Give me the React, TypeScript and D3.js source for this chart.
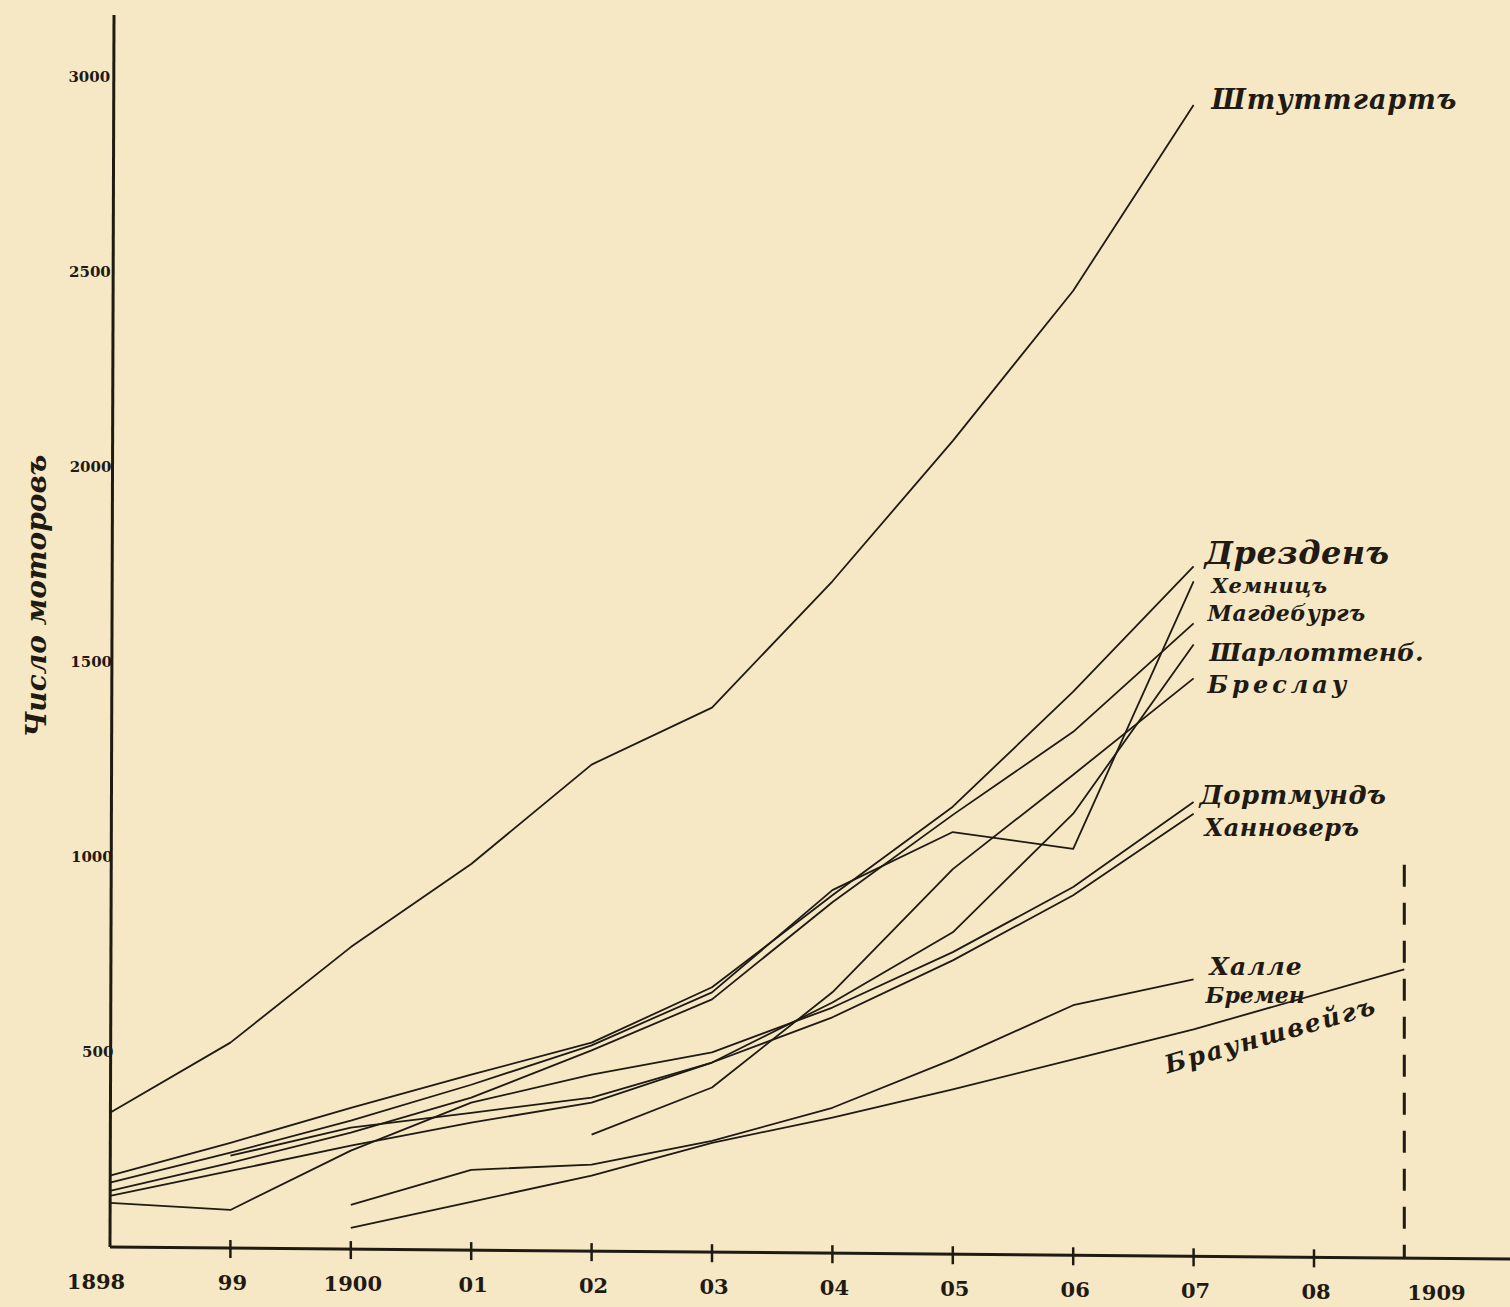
import { useMemo } from 'react'
import * as d3 from 'd3'

const years = [1898, 1899, 1900, 1901, 1902, 1903, 1904, 1905, 1906, 1907]

const stuttgart = [344, 524, 769, 982, 1237, 1383, 1707, 2067, 2452, 2928]
const dresden = [183, 267, 357, 442, 524, 666, 902, 1129, 1424, 1745]
const chemnitz = [165, 242, 324, 416, 517, 653, 915, 1064, 1021, 1707]
const magdeburg = [144, 216, 293, 383, 504, 635, 884, 1108, 1321, 1599]
const charlottenburg = [131, 195, 260, 319, 370, 473, 627, 807, 1111, 1545]
const breslau = [null, null, null, null, 288, 409, 653, 969, 1211, 1458]
const dortmund = [113, 95, 247, 370, 442, 499, 614, 756, 923, 1141]
const hannover = [null, 234, 306, 344, 383, 473, 589, 735, 902, 1111]
const halle = [null, null, 108, 198, 211, 272, 357, 481, 620, 686]
const brunswick = [null, null, 49, 116, 183, 267, 332, 404, 481, 558]

// the dashed 1909 mark and the one value carried to it
const mark1909 = 1908.75
const brunswick1909 = 712

const tickYears = [1898, 1899, 1900, 1901, 1902, 1903, 1904, 1905, 1906, 1907, 1908, 1909]
const tickLabels = ['1898', '99', '1900', '01', '02', '03', '04', '05', '06', '07', '08', '1909']
const yTicks = [500, 1000, 1500, 2000, 2500, 3000]

const W = 1510
const H = 1307
const INK = '#1f1a13'
const PAPER = '#f6e8c4'
const HAND = '"DejaVu Serif", serif'

type Pt = { year: number; value: number }

const toPoints = (vals: (number | null)[]): Pt[] =>
  years.map((year, i) => ({ year, value: vals[i] as number })).filter(d => d.value != null)

const series = [
  { name: 'Штуттгартъ', pts: toPoints(stuttgart), dx: 18, dy: 4, size: 27, ls: 1 },
  { name: 'Дрезденъ', pts: toPoints(dresden), dx: 11, dy: -2, size: 32, ls: 0.5 },
  { name: 'Хемницъ', pts: toPoints(chemnitz), dx: 18, dy: 12, size: 21, ls: 0.5 },
  { name: 'Магдебургъ', pts: toPoints(magdeburg), dx: 14, dy: -2, size: 22, ls: 0.5 },
  { name: 'Шарлоттенб.', pts: toPoints(charlottenburg), dx: 16, dy: 17, size: 25, ls: 0 },
  { name: 'Бреслау', pts: toPoints(breslau), dx: 14, dy: 15, size: 24, ls: 4 },
  { name: 'Дортмундъ', pts: toPoints(dortmund), dx: 6, dy: 2, size: 26, ls: 0.5 },
  { name: 'Ханноверъ', pts: toPoints(hannover), dx: 11, dy: 22, size: 24, ls: 0.5 },
  { name: 'Халле', pts: toPoints(halle), dx: 16, dy: -4, size: 25, ls: 1 },
  {
    name: 'Брауншвейгъ',
    pts: [...toPoints(brunswick), { year: mark1909, value: brunswick1909 }],
    dx: 0, dy: 0, size: 24, ls: 0,
  },
]

export default function App() {
  const x = useMemo(() => d3.scaleLinear().domain([1898, 1908]).range([110, 1314]), [])
  const y = useMemo(() => d3.scaleLinear().domain([0, 3000]).range([1247, 77]), [])

  const line = d3.line<Pt>()
    .x(d => x(d.year))
    .y(d => y(d.value))

  const x0 = x(1898)
  const y0 = y(0)
  const last = (pts: Pt[]) => pts.filter(p => p.year === 1907)[0]

  const hallePt = last(toPoints(halle))
  const brPt = last(toPoints(brunswick))

  return (
    <svg width={W} height={H} style={{ position: 'absolute', left: 0, top: 0, background: PAPER }}>
      <rect width={W} height={H} fill={PAPER} />

      {/* axes */}
      <line x1={x0 + 4} y1={15} x2={x0} y2={y0} stroke={INK} strokeWidth={3} />
      <line x1={x0} y1={y0} x2={W} y2={y0 + 12} stroke={INK} strokeWidth={3} />

      {tickYears.slice(1, 11).map(t => (
        <line key={t} x1={x(t)} x2={x(t)} y1={y0 - 8 + (x(t) - x0) * 0.0086} y2={y0 + 10 + (x(t) - x0) * 0.0086}
          stroke={INK} strokeWidth={2.5} />
      ))}
      {tickYears.map((t, i) => (
        <text key={t} x={i === 0 ? x(t) - 14 : x(t) + 2} y={y0 + 42 + (x(t) - x0) * 0.0086}
          textAnchor="middle" fontFamily={HAND} fontWeight="bold" fontSize={21} fill={INK}>
          {tickLabels[i]}
        </text>
      ))}

      {yTicks.map(t => (
        <text key={t} x={x0 + 4 - (1247 - y(t)) * 0.0033} y={y(t) + 5} textAnchor="end"
          fontFamily={HAND} fontWeight="bold" fontSize={15} fill={INK}>
          {t}
        </text>
      ))}

      <text transform={`translate(46,596) rotate(-90)`} textAnchor="middle"
        fontFamily={HAND} fontStyle="italic" fontWeight="bold" fontSize={28} fill={INK}>
        Число моторовъ
      </text>

      {/* dashed mark for 1909 */}
      <line x1={x(mark1909)} x2={x(mark1909)} y1={y(980)} y2={y0 + 10}
        stroke={INK} strokeWidth={3} strokeDasharray="22 16" />

      {series.map(s => (
        <path key={s.name} d={line(s.pts) ?? ''} fill="none" stroke={INK} strokeWidth={1.8}
          strokeLinejoin="round" />
      ))}

      {series.filter(s => s.name !== 'Брауншвейгъ').map(s => {
        const p = last(s.pts)
        return (
          <text key={s.name} x={x(p.year) + s.dx} y={y(p.value) + s.dy} letterSpacing={s.ls}
            fontFamily={HAND} fontStyle="italic" fontWeight="bold" fontSize={s.size} fill={INK}>
            {s.name}
          </text>
        )
      })}

      <text x={x(hallePt.year) + 12} y={y(hallePt.value) + 24}
        fontFamily={HAND} fontStyle="italic" fontWeight="bold" fontSize={22} fill={INK}>
        Бремен
      </text>
      <text transform={`translate(${x(brPt.year) - 26},${y(brPt.value) + 44}) rotate(-16)`}
        letterSpacing={2} fontFamily={HAND} fontStyle="italic" fontWeight="bold" fontSize={25} fill={INK}>
        Брауншвейгъ
      </text>
    </svg>
  )
}
